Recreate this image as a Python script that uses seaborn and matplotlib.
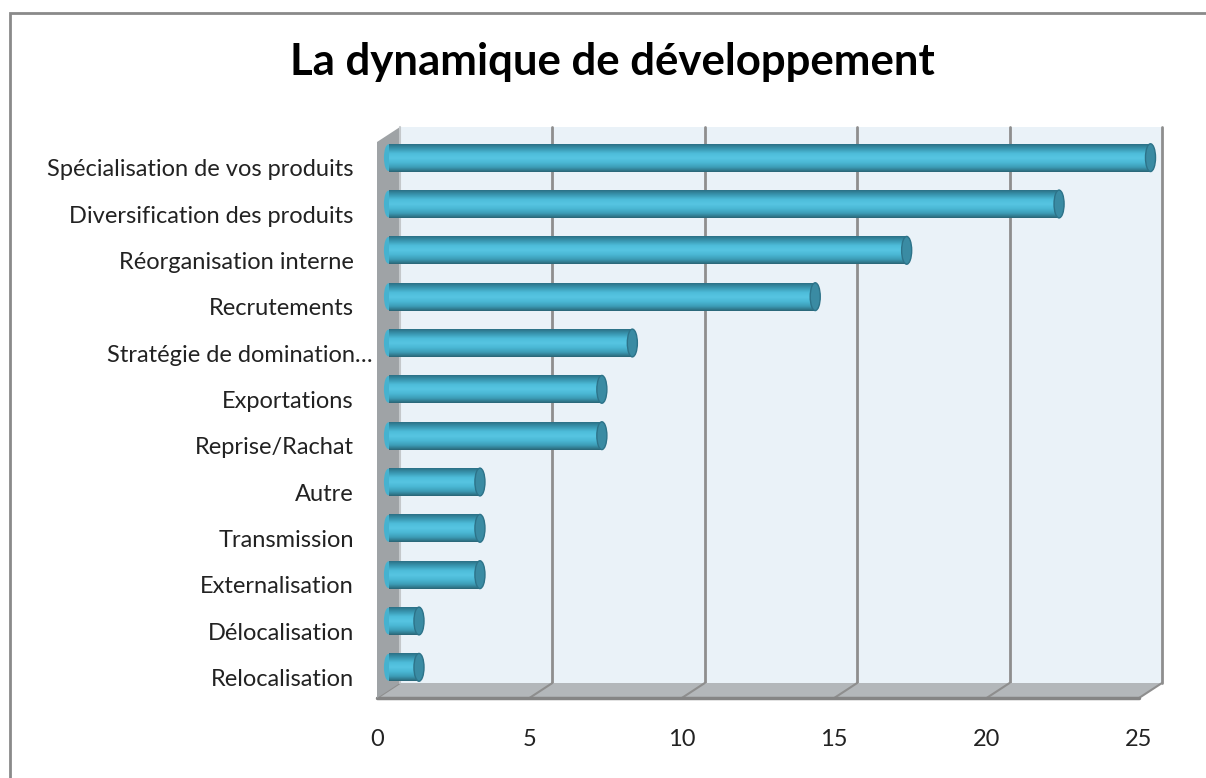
import matplotlib
matplotlib.use("Agg")
import matplotlib.pyplot as plt
from matplotlib.patches import Rectangle, Polygon, Ellipse
from matplotlib.colors import LinearSegmentedColormap
import matplotlib.transforms as mtransforms
import numpy as np
import seaborn as sns

# données
categories = ["Spécialisation de vos produits", "Diversification des produits",
              "Réorganisation interne", "Recrutements", "Stratégie de domination…",
              "Exportations", "Reprise/Rachat", "Autre", "Transmission",
              "Externalisation", "Délocalisation", "Relocalisation"]
valeurs = [25, 22, 17, 14, 8, 7, 7, 3, 3, 3, 1, 1]
graduations = [0, 5, 10, 15, 20, 25]
titre = "La dynamique de développement"

sns.set_style("white")
plt.rcParams["font.family"] = ["Lato", "DejaVu Sans"]

W, H = 1206, 778
fig = plt.figure(figsize=(W / 100, H / 100), dpi=100)

# plan médian des cylindres (en pixels)
gauche, droite, haut, bas = 388.5, 1150.5, 134.5, 690.5
ax = fig.add_axes([gauche / W, 1 - bas / H, (droite - gauche) / W, (bas - haut) / H])

# profondeur 3D : demi-décalage en fraction d'axes
dxa = 11.5 / (droite - gauche)
dya = 7.5 / (bas - haut)

# cadre extérieur
fig.patches.append(Rectangle((10 / W, -0.05), 1.1, 1 - 13 / H + 0.05, transform=fig.transFigure,
                             fill=False, edgecolor="#8a8a8a", linewidth=2))

# mur du fond
ax.add_patch(Rectangle((dxa, dya), 1, 1, transform=ax.transAxes, facecolor="#eaf2f8",
                       edgecolor="none", clip_on=False, zorder=0))
for t in graduations[1:]:
    f = t / graduations[-1]
    ax.plot([f + dxa, f + dxa], [dya, 1 + dya], transform=ax.transAxes, color="#8e8e8e",
            linewidth=2, clip_on=False, zorder=1)

# sol
ax.add_patch(Polygon([(dxa, dya), (1 + dxa, dya), (1 - dxa, -dya), (-dxa, -dya)],
                     closed=True, transform=ax.transAxes, facecolor="#b3b7ba",
                     edgecolor="none", clip_on=False, zorder=1))
for t in graduations:
    f = t / graduations[-1]
    ax.plot([f + dxa, f - dxa], [dya, -dya], transform=ax.transAxes, color="#8e8e8e",
            linewidth=1.5, clip_on=False, zorder=1.5)
ax.plot([-dxa, 1 - dxa], [-dya, -dya], transform=ax.transAxes, color="#858585",
        linewidth=2.5, clip_on=False, zorder=1.5)

# mur gauche
ax.add_patch(Polygon([(-dxa, -dya), (-dxa, 1 - dya), (dxa, 1 + dya), (dxa, dya)],
                     closed=True, transform=ax.transAxes, facecolor="#9fa3a6",
                     edgecolor="none", clip_on=False, zorder=1.6))
ax.plot([dxa, dxa], [dya, 1 + dya], transform=ax.transAxes, color="#c4c8cb",
        linewidth=1.5, clip_on=False, zorder=1.7)

# barres
sns.barplot(x=valeurs, y=categories, orient="h", color="#47b4d1", saturation=1,
            width=0.6, edgecolor="none", ax=ax, zorder=3)

degrade = LinearSegmentedColormap.from_list(
    "cyl", ["#2b7186", "#3a98b2", "#4dbcd9", "#57c5e2", "#4ab7d4", "#3d9db7", "#2a6677"])
grad = np.linspace(0, 1, 64).reshape(-1, 1)
for p in [b for b in ax.patches if b.get_zorder() == 3]:
    p.set_clip_on(False)
    bb = p.get_bbox()
    hauteur = bb.y1 - bb.y0
    yc = (bb.y0 + bb.y1) / 2
    # bord gauche arrondi (silhouette du cylindre)
    ax.add_patch(Ellipse((bb.x0, yc), 0.3, hauteur * 0.96, facecolor="#46b2cf",
                         edgecolor="none", zorder=2.9, clip_on=False))
    ax.imshow(grad, extent=[bb.x0, bb.x1, bb.y1, bb.y0], aspect="auto", cmap=degrade,
              clip_path=p, zorder=3.1, interpolation="bilinear")
    # capuchon de droite
    ax.add_patch(Ellipse((bb.x1, yc), 0.33, hauteur, facecolor="#3a8ba3",
                         edgecolor="#2d7389", linewidth=1, zorder=3.2, clip_on=False))

ax.set_xlim(0, graduations[-1])
ax.set_ylim(11.5, -0.5)
ax.set_xticks(graduations)
ax.set_xticklabels([str(t) for t in graduations])
for s in ax.spines.values():
    s.set_visible(False)
ax.set_facecolor("none")
ax.set_xlabel("")
ax.set_ylabel("")
ax.tick_params(axis="both", length=0, labelsize=17, labelcolor="#222222")
ax.tick_params(axis="y", pad=25)
ax.tick_params(axis="x", pad=28)

# étiquettes sur le plan avant
decal_x = mtransforms.ScaledTranslation(-11.5 / 100, 0, fig.dpi_scale_trans)
for lab in ax.get_xticklabels():
    lab.set_transform(lab.get_transform() + decal_x)
decal_y = mtransforms.ScaledTranslation(0, -10 / 100, fig.dpi_scale_trans)
for i, lab in enumerate(ax.get_yticklabels()):
    tr = lab.get_transform() + decal_y
    if i == 4:
        tr = tr + mtransforms.ScaledTranslation(19 / 100, 0, fig.dpi_scale_trans)
    lab.set_transform(tr)

fig.text(612 / W, 1 - 62 / H, titre, ha="center", va="center", fontsize=31.5,
         fontweight="bold", color="black")

fig.savefig("out.png", dpi=100)
